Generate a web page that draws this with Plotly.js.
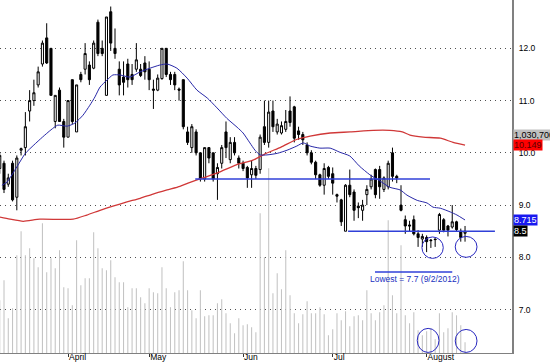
<!DOCTYPE html>
<html>
<head>
<meta charset="utf-8">
<script src="https://cdn.plot.ly/plotly-3.0.1.min.js"></script>
<style>html,body{margin:0;padding:0;background:#fff;}#chart{width:550px;height:364px;}</style>
</head>
<body>
<div id="chart"></div>
<script>
// ---- Daily OHLC ----
const open  = [9.7,9.8,9.4,9.8,9.15,10.05,10.1,10.8,11.0,11.3,11.7,12.2,12.0,10.6,11.2,10.6,10.3,11.4,10.4,11.5,11.6,11.68,11.62,12.5,12.0,11.1,12.7,12.0,11.6,11.45,11.7,11.5,11.6,11.6,11.72,11.6,11.22,11.2,11.42,12.0,11.5,11.5,11.22,11.4,10.4,10.1,10.4,10.0,9.5,10.1,10.0,9.6,9.8,10.4,9.87,10.2,9.9,9.8,9.72,9.58,9.7,9.68,10.5,10.2,10.8,10.4,10.38,10.45,10.8,10.88,10.42,10.35,10.15,10.0,9.82,9.58,9.38,9.72,9.6,9.2,9.1,8.5,9.38,9.25,8.98,8.9,9.2,9.35,9.68,9.68,9.3,9.35,10.0,9.55,9.0,8.72,8.62,8.72,8.45,8.35,8.38,8.33,8.35,8.52,8.72,8.6,8.58,8.68,8.5,8.46];
const high  = [10.0,9.85,9.6,9.85,9.95,10.1,10.78,11.2,11.4,11.65,12.15,12.48,12.0,11.1,11.25,10.65,11.0,11.4,11.3,11.55,12.1,11.75,12.15,12.55,12.15,12.6,12.8,12.38,11.75,11.75,11.8,11.7,12.1,11.7,11.85,11.75,11.4,11.5,12.0,12.0,11.55,11.55,11.25,11.4,10.5,10.55,10.45,10.0,10.1,10.1,10.0,9.8,10.15,10.6,10.3,10.3,9.95,9.85,9.75,9.85,9.75,10.35,11.0,11.0,11.0,10.65,10.6,10.82,11.08,10.9,10.5,10.4,10.2,10.05,9.85,9.6,9.8,9.75,9.72,9.22,9.12,9.4,9.68,9.3,9.05,9.1,9.38,9.58,9.7,9.75,9.55,9.85,10.1,9.58,9.38,8.8,8.7,8.8,8.52,8.45,8.42,8.35,8.36,8.85,8.75,8.62,9.0,8.7,8.55,8.6];
const low   = [9.6,9.23,9.35,9.07,8.9,9.95,9.95,10.6,10.9,11.25,11.65,11.7,11.1,10.47,10.6,10.1,10.3,10.55,10.4,11.35,11.5,11.3,11.6,11.85,11.85,11.1,11.95,11.8,11.1,11.1,11.25,11.3,11.55,11.45,11.4,11.2,10.84,11.18,11.4,11.45,11.3,11.2,11.0,10.45,10.15,10.0,9.95,9.45,9.45,9.8,9.45,9.1,9.7,9.9,9.8,9.95,9.7,9.65,9.33,9.33,9.5,9.6,10.15,10.1,10.4,10.35,10.35,10.4,10.5,10.2,10.25,10.15,9.95,9.78,9.5,9.35,9.2,9.5,9.2,9.05,8.6,8.5,9.15,8.7,8.75,8.7,9.0,9.3,9.13,9.12,9.25,9.3,9.45,9.42,8.88,8.45,8.5,8.42,8.2,8.2,8.1,8.18,8.2,8.45,8.48,8.4,8.55,8.5,8.3,8.3];
const close = [9.95,9.3,9.52,9.1,9.9,10.08,10.5,11.0,11.15,11.55,12.1,11.72,11.1,11.1,10.6,10.3,11.0,10.6,11.3,11.4,11.9,11.4,12.1,11.9,11.9,12.6,12.1,11.9,11.3,11.35,11.4,11.4,11.78,11.48,11.55,11.4,11.2,11.43,12.0,11.5,11.4,11.3,11.2,10.5,10.2,10.5,10.0,9.5,10.1,9.9,9.5,9.72,10.1,10.1,10.2,10.0,9.8,9.7,9.52,9.7,9.57,10.3,10.2,10.78,10.5,10.55,10.52,10.6,10.58,10.28,10.35,10.25,10.0,9.82,9.58,9.38,9.7,9.55,9.42,9.17,8.68,9.38,9.2,8.9,8.95,9.0,9.3,9.5,9.2,9.35,9.52,9.8,9.55,9.52,8.9,8.6,8.6,8.45,8.38,8.4,8.3,8.32,8.34,8.82,8.52,8.52,8.68,8.53,8.38,8.5];
// ---- Daily volume, millions of shares ----
const volume = [5.08,7.01,3.35,4.31,9.42,11.73,9.42,10.09,9.13,8.26,12.50,7.78,9.13,8.17,9.90,6.33,6.24,4.60,10.86,6.53,7.20,7.20,11.64,10.09,8.17,7.97,8.94,7.30,6.82,6.82,4.41,6.24,6.24,5.37,4.79,6.24,5.85,5.76,8.26,6.24,4.41,5.85,6.04,8.84,6.04,4.12,3.35,6.04,3.54,3.63,3.63,4.79,5.18,3.83,2.86,1.90,3.35,2.67,2.77,2.48,2.00,13.47,9.23,17.80,5.76,7.68,6.14,9.90,5.56,3.83,2.86,3.73,4.98,3.83,3.83,4.41,3.73,1.71,2.28,3.83,3.15,4.02,2.57,3.54,3.63,3.15,6.04,3.83,3.15,3.92,4.60,12.79,5.56,3.83,10.38,3.63,2.86,3.92,2.19,1.71,2.09,2.38,1.32,3.83,2.00,2.38,3.92,3.63,2.67,1.0307];
// ---- Moving averages, bar index / value ----
const blueMaIdx = [0.5,1.7,4,6,8,10,12,13.6,15.8,17.6,19.5,21.1,22.3,23.5,25.1,26.5,28.2,30.5,32.9,35.2,37.5,39.2,41.5,43.9,46.2,48.6,50.9,53.2,55.6,57,58.6,59.8,61,62.6,65,67.3,69.6,71.1,72.7,75,77.4,79.7,82,84.2,86.7,89.1,91.4,93.8,95.4,97.8,100.1,101.5,103.2,105.5,107.1,109];
const blueMa    = [9.38,9.44,9.73,9.99,10.15,10.30,10.44,10.53,10.51,10.57,10.72,10.91,11.07,11.26,11.39,11.49,11.49,11.45,11.55,11.62,11.68,11.70,11.62,11.43,11.20,11.05,10.86,10.66,10.49,10.38,10.19,10.05,9.96,9.96,9.99,10.05,10.13,10.19,10.13,10.09,10.09,10.01,9.94,9.75,9.58,9.46,9.34,9.29,9.19,9.09,9.04,8.96,8.94,8.87,8.81,8.715];
const redMaIdx  = [0,2.4,5.5,9.4,17.2,20.4,23.5,26.5,29.8,32.9,35.9,39.2,42.2,44.1,47.6,51.4,55.4,59.3,62.4,65.9,69.7,72.7,77.4,82.1,87.5,91.4,94.3,96.1,99.2,103.2,106.2,109];
const redMa     = [8.77,8.73,8.69,8.73,8.73,8.81,8.90,8.98,9.06,9.13,9.21,9.29,9.36,9.42,9.52,9.63,9.77,9.86,9.99,10.11,10.26,10.32,10.38,10.40,10.43,10.43,10.40,10.34,10.30,10.28,10.20,10.149];
// ---- Month ticks ----
const monthTickIdx = [16,35,57,78,100];
const monthLabels  = ['April','May','Jun','Jul','August'];
// ---- Right-edge value labels ----
const lastVolumeText = '1,030,700';
const redMaLast = 10.149, blueMaLast = 8.715, lastClose = 8.5;
const lowestText = 'Lowest = 7.7 (9/2/2012)';

const barIndex = close.map((_, i) => i);
const FONT = 'Liberation Sans, Arial, sans-serif';

const traces = [
  { type:'bar', x:barIndex, y:volume, xaxis:'x', yaxis:'y', width:0.25,
    marker:{color:'#c4c4c4', line:{width:0}}, hoverinfo:'skip' },
  { type:'scatter', mode:'lines', x:redMaIdx, y:redMa, xaxis:'x', yaxis:'y2',
    line:{color:'#d03838', width:1.3, shape:'spline', smoothing:0.6}, hoverinfo:'skip' },
  { type:'scatter', mode:'lines', x:blueMaIdx, y:blueMa, xaxis:'x', yaxis:'y2',
    line:{color:'#2828a8', width:1, shape:'spline', smoothing:0.6}, hoverinfo:'skip' },
  { type:'candlestick', x:barIndex, open:open, high:high, low:low, close:close,
    xaxis:'x', yaxis:'y2', whiskerwidth:0,
    increasing:{line:{color:'#000', width:1}, fillcolor:'#ffffff'},
    decreasing:{line:{color:'#000', width:1}, fillcolor:'#000000'}, hoverinfo:'skip' }
];

const lineBlue = '#3040d8';
const circ = '#2828c0';
const shapes = [
  {type:'line', xref:'x', yref:'y2', x0:45.8, x1:100.8, y0:9.5, y1:9.5, line:{color:lineBlue, width:1.5}},
  {type:'line', xref:'x', yref:'y2', x0:81.6, x1:116.0, y0:8.5, y1:8.5, line:{color:lineBlue, width:1.5}},
  {type:'line', xref:'x', yref:'y2', x0:87.9, x1:106.0, y0:7.72, y1:7.72, line:{color:lineBlue, width:1.5}},
  {type:'circle', xref:'x', yref:'y2', x0:98.9, x1:103.9, y0:7.98, y1:8.39, line:{color:circ, width:1}},
  {type:'circle', xref:'x', yref:'y2', x0:106.7, x1:111.8, y0:8.0, y1:8.40, line:{color:circ, width:1}},
  {type:'circle', xref:'x', yref:'y2', x0:97.8, x1:102.9, y0:6.18, y1:6.64, line:{color:circ, width:1}},
  {type:'circle', xref:'x', yref:'y2', x0:106.7, x1:111.8, y0:6.18, y1:6.62, line:{color:circ, width:1}}
];

function tag(text, yv, bg, fg, yshift) {
  return {xref:'paper', x:1, xanchor:'left', xshift:1, yref:'y2', y:yv, yanchor:'middle', yshift:yshift||0,
    text:text, showarrow:false, bgcolor:bg, borderpad:0,
    font:{family:FONT, size:9, color:fg}};
}
const annotations = [
  tag(lastVolumeText, redMaLast, '#c0c0c0', '#000', 10),
  tag(String(redMaLast), redMaLast, '#ff0000', '#5a0000', 0),
  tag(String(blueMaLast), blueMaLast, '#1818f0', '#ffffff', 0),
  tag(String(lastClose), lastClose, '#000000', '#ffffff', 0),
  {xref:'x', yref:'y2', x:97.3, y:7.58, text:lowestText, showarrow:false,
   font:{family:FONT, size:8.5, color:'#2030c0'}}
];

const layout = {
  width:550, height:364,
  margin:{l:0, r:38, t:0, b:11, pad:0},
  paper_bgcolor:'#ffffff', plot_bgcolor:'#ffffff',
  showlegend:false,
  font:{family:FONT, size:8.5, color:'#000'},
  xaxis:{range:[0.06,120], showgrid:false, zeroline:false, showline:true, linecolor:'#808080', linewidth:1,
    ticks:'outside', ticklen:3, tickcolor:'#333', tickvals:monthTickIdx, ticktext:monthLabels,
    ticklabelposition:'outside right', ticklabelstandoff:-4,
    tickfont:{family:FONT, size:8.5, color:'#000'},
    rangeslider:{visible:false}, fixedrange:true},
  yaxis:{range:[0,34], visible:false, fixedrange:true},
  yaxis2:{overlaying:'y', side:'right', range:[6.169,12.925], tick0:0, dtick:1, tickformat:'.1f',
    showgrid:true, gridcolor:'#505050', griddash:'1px,4px', gridwidth:1, zeroline:false,
    showline:true, linecolor:'#808080', linewidth:2, ticks:'', ticklabelstandoff:3,
    tickfont:{family:FONT, size:8.5, color:'#000'}, fixedrange:true},
  shapes:shapes,
  annotations:annotations
};

Plotly.newPlot('chart', traces, layout, {displayModeBar:false, staticPlot:true});
</script>
</body>
</html>
